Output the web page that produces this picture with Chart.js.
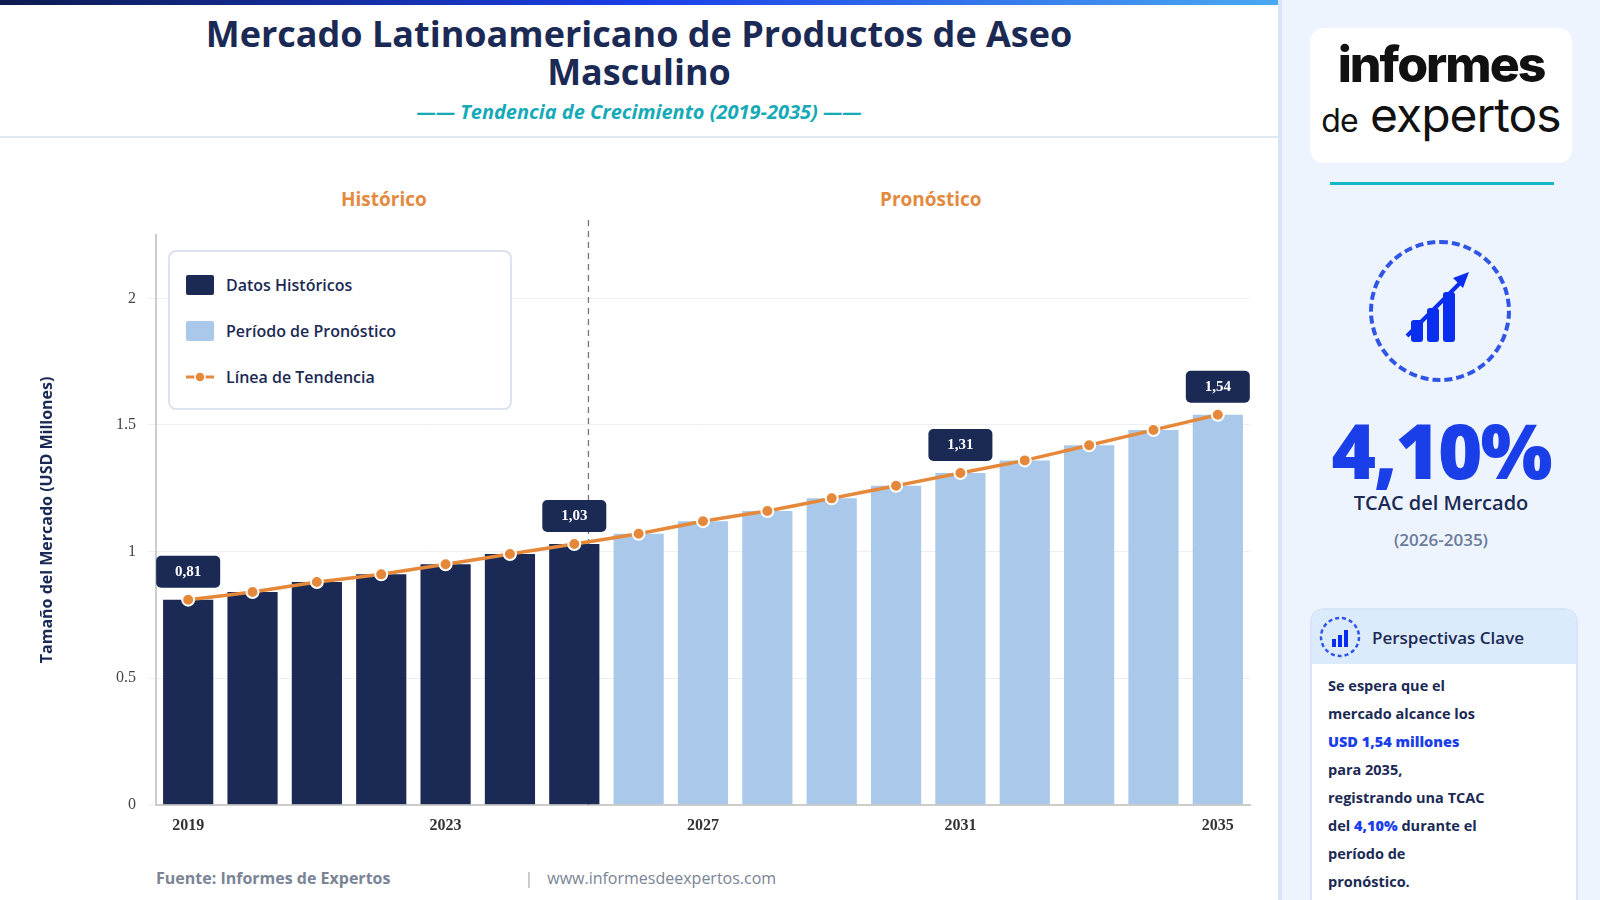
<!DOCTYPE html>
<html><head><meta charset="utf-8">
<script src="https://cdn.jsdelivr.net/npm/chart.js@4/dist/chart.umd.min.js"></script>
<style>
body{margin:0;width:1600px;height:900px;overflow:hidden;font-family:"Open Sans","Noto Sans",sans-serif;background:#fff;position:relative}
#topbar{position:absolute;left:0;top:0;width:1278px;height:5px;background:linear-gradient(90deg,#0d1b4f,#1a3ee8,#4aa8f0)}
#title{position:absolute;left:0;width:1278px;top:15px;text-align:center;font-size:36px;font-weight:700;color:#1b2a55;line-height:38px}
#sub{position:absolute;left:0;width:1278px;top:98px;text-align:center;font-size:20px;font-style:italic;font-weight:700;color:#16aab8}
#hline{position:absolute;left:0;top:136px;width:1278px;height:2px;background:#e2e8f0}
.phase{position:absolute;top:186px;font-size:19px;font-weight:700;color:#e38a3f}
#legend{position:absolute;left:168px;top:250px;width:344px;height:160px;border:2px solid #dde3ee;border-radius:8px;background:#fff;box-sizing:border-box}
.li{position:absolute;left:16px;font-size:16px;font-weight:600;color:#1b2a55;display:flex;align-items:center}
.sw{width:28px;height:20px;margin-right:12px;border-radius:2px}
#wrap{position:absolute;left:38px;top:140px;width:1240px;height:710px}
#foot{position:absolute;top:867px;left:156px;font-size:16px;color:#7a8496}
#side{position:absolute;left:1278px;top:0;width:322px;height:900px;background:#eef4fe;border-left:4px solid #d6e4f7;box-sizing:border-box}
#logo{position:absolute;left:28px;top:28px;width:262px;height:135px;background:#fff;border-radius:14px;text-align:center;color:#111}
#tl{position:absolute;left:48px;top:182px;width:224px;height:3px;background:#16b8c8}
#circ{position:absolute;left:87px;top:240px;width:142px;height:142px;border:4px dashed #2f55e6;border-radius:50%;box-sizing:border-box}
#big{position:absolute;left:0;width:318px;top:398px;text-align:center;font-size:76px;font-weight:800;color:#1a3ee8;letter-spacing:-2px}
#tcac{position:absolute;left:0;width:318px;top:489px;text-align:center;font-size:20px;font-weight:600;color:#1b2a55}
#yrs{position:absolute;left:0;width:318px;top:528px;text-align:center;font-size:17px;font-weight:600;color:#6a7a9a}
#card{position:absolute;left:28px;top:608px;width:264px;height:310px;background:#fff;border:2px solid #d6e4f7;border-radius:14px;overflow:hidden}
#ch{height:54px;background:#dcebfc;display:flex;align-items:center;font-size:17px;font-weight:600;color:#1b2a55}
#cb{padding:8px 16px;font-size:14.5px;font-weight:700;color:#1b2a55;line-height:28px}
#cb b{color:#1a3ee8}
</style></head><body>
<div id="topbar"></div>
<div id="title">Mercado Latinoamericano de Productos de Aseo<br>Masculino</div>
<div id="sub">—— Tendencia de Crecimiento (2019-2035) ——</div>
<div id="hline"></div>
<div class="phase" style="left:341px">Histórico</div>
<div class="phase" style="left:880px">Pronóstico</div>
<div id="wrap"><canvas id="c"></canvas></div>
<div id="legend">
 <div class="li" style="top:22px"><div class="sw" style="background:#1b2a55"></div>Datos Históricos</div>
 <div class="li" style="top:68px"><div class="sw" style="background:#a9c8ea"></div>Período de Pronóstico</div>
 <div class="li" style="top:114px"><svg width="28" height="20" style="margin-right:12px"><line x1="0" y1="10" x2="28" y2="10" stroke="#e6883a" stroke-width="3"/><circle cx="14" cy="10" r="5" fill="#e6883a" stroke="#fff" stroke-width="1.5"/></svg>Línea de Tendencia</div>
</div>
<div id="foot"><b>Fuente: Informes de Expertos</b><span style="margin-left:134px;color:#aaa">|</span><span style="margin-left:14px">www.informesdeexpertos.com</span></div>
<div id="side">
 <div id="logo"><div style="font-size:50px;font-weight:800;letter-spacing:-2px;margin-top:10px;line-height:52px;font-family:Inter,sans-serif">informes</div><div style="font-size:48px;line-height:50px;font-family:Inter,sans-serif;letter-spacing:-1px"><span style="font-size:32px">de</span> expertos</div></div>
 <div id="tl"></div>
 <div id="circ"><svg width="134" height="134" style="position:absolute;left:0;top:0"><g fill="#0a2ef0"><rect x="38" y="76" width="12" height="22" rx="3"/><rect x="54" y="64" width="12" height="34" rx="3"/><rect x="70" y="48" width="12" height="50" rx="3"/></g><path d="M34 92 L56 70 L70 56 L88 38" stroke="#0a2ef0" stroke-width="4" fill="none"/><path d="M80 34 L96 28 L90 44 Z" fill="#0a2ef0"/></svg></div>
 <div id="big">4,10%</div>
 <div id="tcac">TCAC del Mercado</div>
 <div id="yrs">(2026-2035)</div>
 <div id="card">
  <div id="ch"><svg width="44" height="44" style="margin:0 10px 0 6px"><circle cx="22" cy="22" r="19" fill="none" stroke="#2f55e6" stroke-width="2.5" stroke-dasharray="4 3"/><g fill="#0a2ef0"><rect x="14" y="24" width="4" height="8"/><rect x="20" y="20" width="4" height="12"/><rect x="26" y="15" width="4" height="17"/></g></svg>Perspectivas Clave</div>
  <div id="cb">Se espera que el<br>mercado alcance los<br><b>USD 1,54 millones</b><br>para 2035,<br>registrando una TCAC<br>del <b>4,10%</b> durante el<br>período de<br>pronóstico.</div>
 </div>
</div>
<script>
const years = ['2019','2020','2021','2022','2023','2024','2025','2026','2027','2028','2029','2030','2031','2032','2033','2034','2035'];
const values = [0.81,0.84,0.88,0.91,0.95,0.99,1.03,1.07,1.12,1.16,1.21,1.26,1.31,1.36,1.42,1.48,1.54];
const lastHistIndex = 6;
const shownYears = ['2019','2023','2027','2031','2035'];
const labeledYears = ['2019','2025','2031','2035'];
const yTicks = [0,0.5,1,1.5,2];
const fmt = v => v.toFixed(2).replace('.', ',');

const extras = {
  id: 'extras',
  beforeDatasetsDraw(chart) {
    // linea divisoria, detras de las barras
    const {ctx, chartArea, scales: {x}} = chart;
    const xd = x.getPixelForValue(lastHistIndex) + 0.22 * (x.getPixelForValue(1) - x.getPixelForValue(0));
    ctx.save();
    ctx.setLineDash([6, 5]); ctx.strokeStyle = '#777'; ctx.lineWidth = 1.3;
    ctx.beginPath(); ctx.moveTo(xd, chartArea.top - 15); ctx.lineTo(xd, chartArea.bottom); ctx.stroke();
    ctx.restore();
  },
  afterDatasetsDraw(chart) {
    const {ctx, scales: {x, y}} = chart;
    ctx.save();
    ctx.font = 'bold 15px "Liberation Serif", serif';
    ctx.textAlign = 'center'; ctx.textBaseline = 'middle';
    labeledYears.forEach(yr => {
      const i = years.indexOf(yr);
      const px = x.getPixelForValue(i), py = y.getPixelForValue(values[i]);
      const w = 64, h = 32, by = py - 12 - h;
      ctx.fillStyle = '#1b2a55';
      ctx.beginPath(); ctx.roundRect(px - w / 2, by, w, h, 5); ctx.fill();
      ctx.fillStyle = '#fff'; ctx.fillText(fmt(values[i]), px, by + h / 2);
    });
    ctx.restore();
  }
};

new Chart(document.getElementById('c'), {
  data: {
    labels: years,
    datasets: [
      { type: 'line', data: values, borderColor: '#e6883a', borderWidth: 3.5, pointRadius: 6,
        pointBackgroundColor: '#e6883a', pointBorderColor: '#fff', pointBorderWidth: 2, tension: 0.1, order: 0 },
      { type: 'bar', data: values, order: 1, barPercentage: 0.78, categoryPercentage: 1,
        backgroundColor: years.map((_, i) => i <= lastHistIndex ? '#1b2a55' : '#a9c8ea') }
    ]
  },
  options: {
    responsive: true, maintainAspectRatio: false, animation: false,
    layout: { padding: { top: 95, right: 28, bottom: 12 } },
    plugins: { legend: { display: false }, tooltip: { enabled: false } },
    scales: {
      x: {
        grid: { display: false }, border: { color: '#ccc', width: 2 },
        ticks: { autoSkip: false, maxRotation: 0, color: '#333', font: { family: 'Liberation Serif', size: 16, weight: 'bold' },
          callback: (v, i) => shownYears.includes(years[i]) ? years[i] : '' }
      },
      y: {
        min: 0, max: 2.25,
        afterBuildTicks: s => { s.ticks = yTicks.map(v => ({ value: v })); },
        afterFit: s => { s.width = 118; },
        grid: { color: '#eceff4' }, border: { color: '#ccc', width: 2 },
        ticks: { color: '#444', padding: 12, font: { family: 'Liberation Serif', size: 16 }, callback: v => String(v) },
        title: { display: true, text: 'Tamaño del Mercado (USD Millones)', color: '#1b2a55', padding: { top: 0, bottom: 60 },
          font: { family: 'Open Sans', size: 16, weight: 'bold' } }
      }
    }
  },
  plugins: [extras]
});
</script>
</body></html>
